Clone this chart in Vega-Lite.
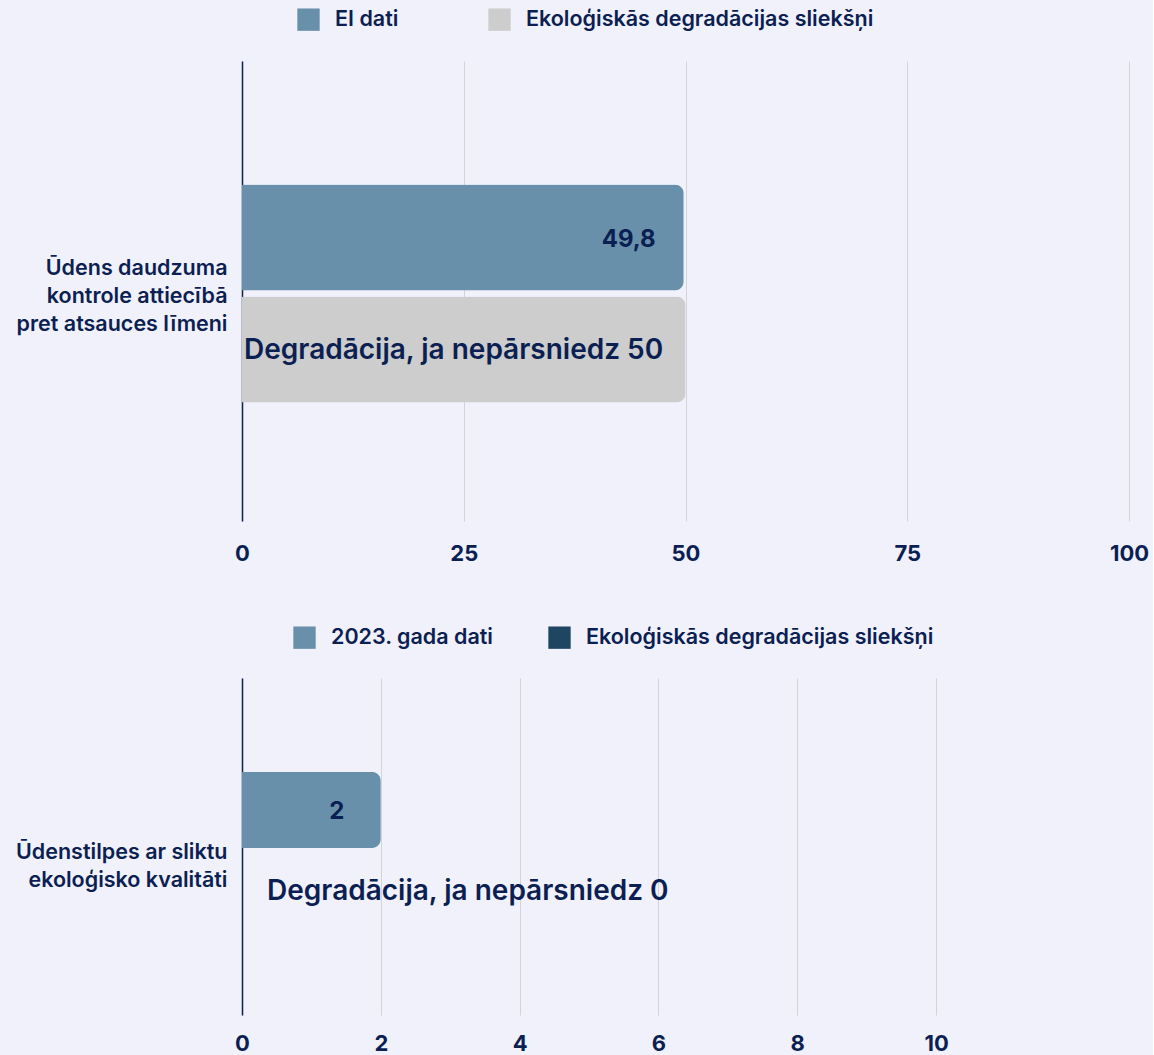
{
  "$schema": "https://vega.github.io/schema/vega-lite/v6.json",
  "background": "#f1f1fb",
  "padding": {"left": 15, "top": 8, "right": 4, "bottom": 3},
  "spacing": 62,
  "config": {
    "view": {"stroke": null},
    "font": "Inter",
    "axis": {"labelFont": "Inter", "labelFontWeight": 600, "labelColor": "#0b1f52", "labelFontSize": 20},
    "legend": {"labelFont": "Inter", "labelFontWeight": 600, "labelColor": "#0b1f52", "labelFontSize": 21.5, "labelLimit": 500}
  },
  "resolve": {"scale": {"color": "independent", "x": "independent", "y": "independent", "yOffset": "independent"}, "legend": {"color": "independent"}},
  "vconcat": [
    {
      "width": 887,
      "height": 460,
      "data": {"values": [
        {"cat": "Ūdens daudzuma|kontrole attiecībā|pret atsauces līmeni", "series": "EI dati", "value": 49.8, "label": "49,8"},
        {"cat": "Ūdens daudzuma|kontrole attiecībā|pret atsauces līmeni", "series": "Ekoloģiskās degradācijas sliekšņi", "value": 50, "label": "Degradācija, ja nepārsniedz 50"}
      ]},
      "encoding": {
        "y": {"field": "cat", "type": "nominal", "title": null,
              "scale": {"paddingInner": 0, "paddingOuter": 0.555, "align": 0.51},
              "axis": {"labelExpr": "split(datum.value, '|')", "labelFontSize": 21.5, "labelLineHeight": 28, "labelOffset": -24, "ticks": false, "domain": true, "domainColor": "#0b1f52", "domainWidth": 1.5, "labelPadding": 15, "labelLimit": 400}},
        "yOffset": {"field": "series", "type": "nominal", "sort": ["EI dati", "Ekoloģiskās degradācijas sliekšņi"], "scale": {"paddingInner": 0.0536, "paddingOuter": 0}}
      },
      "layer": [
        {
          "mark": {"type": "bar", "cornerRadiusEnd": 9},
          "encoding": {
            "x": {"field": "value", "type": "quantitative", "title": null,
                  "scale": {"domain": [0, 100], "nice": false},
                  "axis": {"values": [0, 25, 50, 75, 100], "labelFlush": false, "labelFontSize": 22, "labelFontWeight": 700, "grid": true, "gridColor": "#d4d4d8", "domain": false, "ticks": false, "labelPadding": 22}},
            "color": {"field": "series", "type": "nominal",
                      "scale": {"domain": ["EI dati", "Ekoloģiskās degradācijas sliekšņi"], "range": ["#6990aa", "#cccdcc"]},
                      "legend": {"title": null, "orient": "none", "legendX": 55, "legendY": -53, "direction": "horizontal", "symbolType": "square", "symbolSize": 500, "symbolStrokeWidth": 0, "symbolOpacity": 1, "columnPadding": 89, "labelOffset": 15}}
          }
        },
        {
          "transform": [{"filter": "datum.series === 'EI dati'"}],
          "mark": {"type": "text", "align": "right", "baseline": "middle", "dx": -28, "dy": 3, "fontSize": 24, "fontWeight": 700, "color": "#0b1f52"},
          "encoding": {"x": {"field": "value", "type": "quantitative"}, "text": {"field": "label"}}
        },
        {
          "transform": [{"filter": "datum.series !== 'EI dati'"}],
          "mark": {"type": "text", "align": "left", "baseline": "middle", "dx": 2, "dy": 2, "fontSize": 28, "fontWeight": 600, "color": "#0b1f52"},
          "encoding": {"x": {"datum": 0, "type": "quantitative"}, "text": {"field": "label"}}
        }
      ]
    },
    {
      "width": 887,
      "height": 337,
      "data": {"values": [
        {"cat": "Ūdenstilpes ar sliktu|ekoloģisko kvalitāti", "series": "2023. gada dati", "value": 2, "label": "2"},
        {"cat": "Ūdenstilpes ar sliktu|ekoloģisko kvalitāti", "series": "Ekoloģiskās degradācijas sliekšņi", "value": 0, "label": "Degradācija, ja nepārsniedz 0"}
      ]},
      "encoding": {
        "y": {"field": "cat", "type": "nominal", "title": null,
              "scale": {"paddingInner": 0, "paddingOuter": 0.566, "align": 0.525},
              "axis": {"labelExpr": "split(datum.value, '|')", "labelFontSize": 21.5, "labelLineHeight": 28, "labelOffset": 2, "ticks": false, "domain": true, "domainColor": "#0b1f52", "domainWidth": 1.5, "labelPadding": 15, "labelLimit": 400}},
        "yOffset": {"field": "series", "type": "nominal", "sort": ["2023. gada dati", "Ekoloģiskās degradācijas sliekšņi"], "scale": {"paddingInner": 0.073, "paddingOuter": 0}}
      },
      "layer": [
        {
          "mark": {"type": "bar", "cornerRadiusEnd": 9},
          "encoding": {
            "x": {"field": "value", "type": "quantitative", "title": null,
                  "scale": {"domain": [0, 12.78], "nice": false},
                  "axis": {"values": [0, 2, 4, 6, 8, 10], "format": "d", "labelFlush": false, "labelFontSize": 22, "labelFontWeight": 700, "grid": true, "gridColor": "#d4d4d8", "domain": false, "ticks": false, "labelPadding": 18}},
            "color": {"field": "series", "type": "nominal",
                      "scale": {"domain": ["2023. gada dati", "Ekoloģiskās degradācijas sliekšņi"], "range": ["#6990aa", "#1f4661"]},
                      "legend": {"title": null, "orient": "none", "legendX": 51, "legendY": -52, "direction": "horizontal", "symbolType": "square", "symbolSize": 500, "symbolStrokeWidth": 0, "symbolOpacity": 1, "columnPadding": 54, "labelOffset": 15}}
          }
        },
        {
          "transform": [{"filter": "datum.series === '2023. gada dati'"}],
          "mark": {"type": "text", "align": "center", "baseline": "middle", "dx": -44, "dy": 2, "fontSize": 24, "fontWeight": 700, "color": "#0b1f52"},
          "encoding": {"x": {"field": "value", "type": "quantitative"}, "text": {"field": "label"}}
        },
        {
          "transform": [{"filter": "datum.series !== '2023. gada dati'"}],
          "mark": {"type": "text", "align": "left", "baseline": "middle", "dx": 25, "fontSize": 28, "fontWeight": 600, "color": "#0b1f52"},
          "encoding": {"x": {"datum": 0, "type": "quantitative"}, "text": {"field": "label"}}
        }
      ]
    }
  ]
}
